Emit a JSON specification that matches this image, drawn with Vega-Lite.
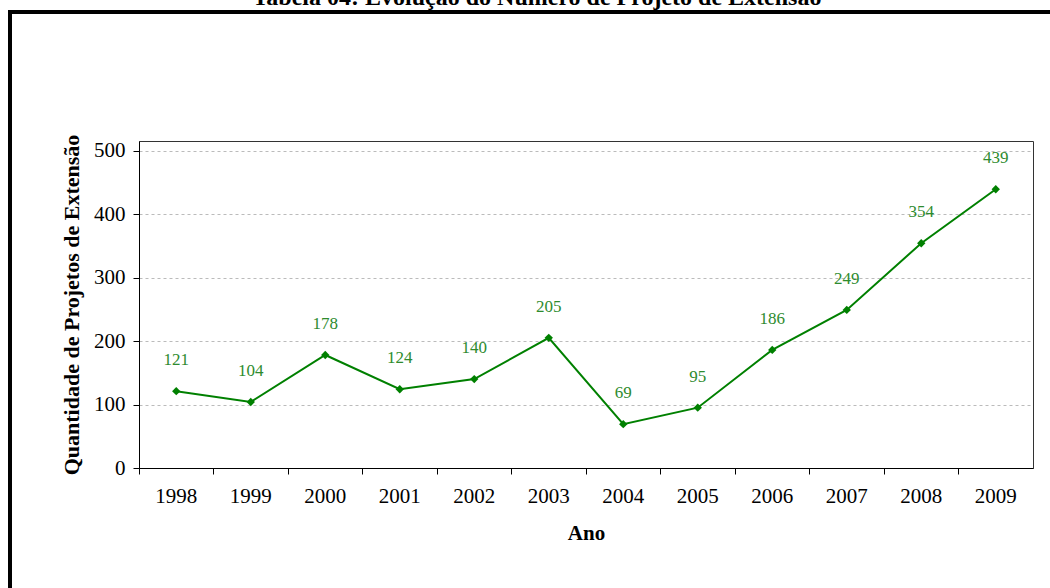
{
  "$schema": "https://vega.github.io/schema/vega-lite/v6.json",
  "autosize": {"type": "none"},
  "padding": {"left": 139, "top": 141, "right": 17, "bottom": 120},
  "width": 894,
  "height": 327,
  "background": "white",
  "title": {
    "text": "Tabela 04: Evolução do Número de Projeto de Extensão",
    "font": "Liberation Serif",
    "fontSize": 24,
    "fontWeight": "bold",
    "color": "#000",
    "anchor": "middle",
    "frame": "group",
    "baseline": "alphabetic",
    "offset": -19,
    "dx": -49
  },
  "config": {
    "view": {"stroke": "#333", "strokeWidth": 1},
    "axis": {
      "labelFont": "Liberation Serif",
      "titleFont": "Liberation Serif",
      "labelColor": "#000",
      "titleColor": "#000",
      "domainColor": "#000",
      "tickColor": "#000"
    }
  },
  "data": {
    "values": [
      {"Ano": "1998", "Quantidade": 121},
      {"Ano": "1999", "Quantidade": 104},
      {"Ano": "2000", "Quantidade": 178},
      {"Ano": "2001", "Quantidade": 124},
      {"Ano": "2002", "Quantidade": 140},
      {"Ano": "2003", "Quantidade": 205},
      {"Ano": "2004", "Quantidade": 69},
      {"Ano": "2005", "Quantidade": 95},
      {"Ano": "2006", "Quantidade": 186},
      {"Ano": "2007", "Quantidade": 249},
      {"Ano": "2008", "Quantidade": 354},
      {"Ano": "2009", "Quantidade": 439}
    ]
  },
  "resolve": {"scale": {"x": "independent", "y": "independent"}, "axis": {"x": "independent", "y": "independent"}},
  "layer": [
    {
      "mark": {"type": "rect", "fill": null, "fillOpacity": 0, "stroke": "#000", "strokeWidth": 4},
      "encoding": {
        "x": {"datum": 0, "type": "quantitative", "axis": null, "scale": {"domain": [0, 1], "range": [-129, 940], "nice": false, "zero": false}},
        "x2": {"datum": 1},
        "y": {"datum": 0, "type": "quantitative", "axis": null, "scale": {"domain": [0, 1], "range": [-129, 470], "nice": false, "zero": false}},
        "y2": {"datum": 1}
      }
    },
    {
      "encoding": {
        "x": {
          "field": "Ano",
          "type": "ordinal",
          "scale": {"type": "band", "paddingInner": 0, "paddingOuter": 0},
          "axis": {
            "title": "Ano",
            "titleFontSize": 21,
            "titleFontWeight": "bold",
            "titlePadding": 16,
            "labelFontSize": 21,
            "labelAngle": 0,
            "labelPadding": 11,
            "bandPosition": 0,
            "tickSize": 6,
            "grid": false,
            "domainWidth": 1
          }
        },
        "y": {
          "field": "Quantidade",
          "type": "quantitative",
          "scale": {"domain": [0, 515], "nice": false, "zero": true},
          "axis": {
            "title": "Quantidade de Projetos de Extensão",
            "titleFontSize": 22,
            "titleFontWeight": "bold",
            "titlePadding": 10,
            "labelFontSize": 21,
            "labelPadding": 8,
            "values": [0, 100, 200, 300, 400, 500],
            "tickSize": 6,
            "grid": true,
            "gridColor": "#bbbbbb",
            "gridDash": [3, 3],
            "gridWidth": 1
          }
        }
      },
      "layer": [
        {
          "mark": {
            "type": "line",
            "color": "#008000",
            "strokeWidth": 2,
            "point": {"shape": "diamond", "filled": true, "size": 70, "color": "#008000"}
          }
        },
        {
          "mark": {
            "type": "text",
            "dy": -31,
            "font": "Liberation Serif",
            "fontSize": 17,
            "color": "#2e8b2e"
          },
          "encoding": {"text": {"field": "Quantidade", "type": "quantitative"}}
        }
      ]
    }
  ]
}
